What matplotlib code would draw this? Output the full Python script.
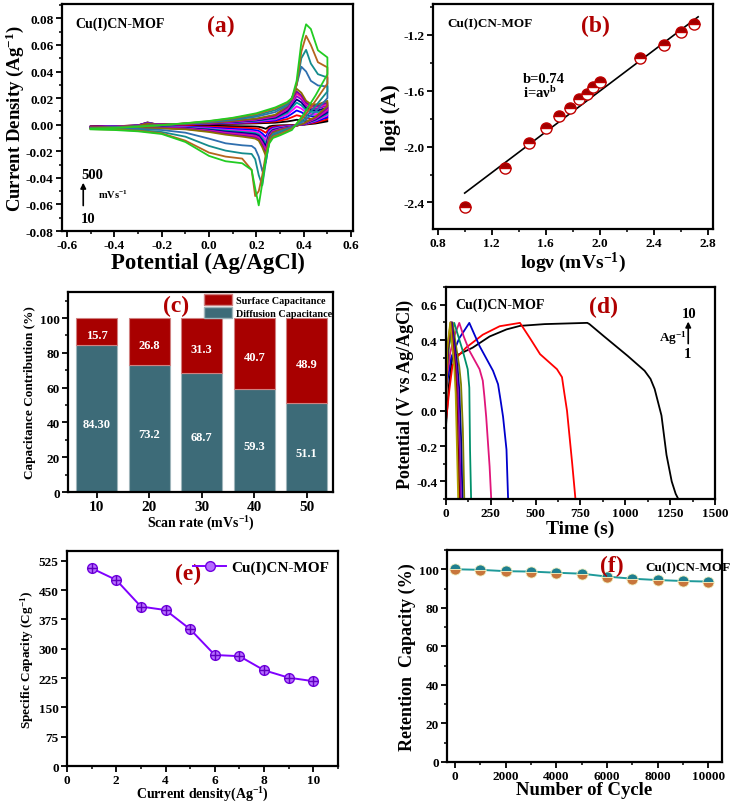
import matplotlib
matplotlib.use('Agg')
import matplotlib.pyplot as plt
from matplotlib.ticker import MultipleLocator, FormatStrFormatter
from matplotlib.patches import Patch
import numpy as np

#%% Estilo general
plt.rcParams['font.family'] = ['Liberation Serif', 'DejaVu Serif']
plt.rcParams['font.weight'] = 'bold'
plt.rcParams['axes.labelweight'] = 'bold'
plt.rcParams['axes.unicode_minus'] = False
plt.rcParams['mathtext.fontset'] = 'custom'
plt.rcParams['mathtext.rm'] = 'Liberation Serif:bold'
plt.rcParams['mathtext.it'] = 'Liberation Serif:italic:bold'
plt.rcParams['mathtext.bf'] = 'Liberation Serif:bold'
plt.rcParams['mathtext.default'] = 'regular'

DARKRED = '#b00000'

#%% Datos (a): voltametria ciclica, corriente en 10^-3 A/g
scan_rates = [10, 20, 30, 40, 50, 60, 70, 80, 90, 100, 200, 300, 400, 500]
cv_colors = ['black', '#ff0000', '#0000ff', '#ff00ff', '#00a0a0', '#000080',
             '#9400d3', '#ff1493', '#7b00b0', '#8b7000',
             '#2f6fae', '#148c8c', '#b5651d', '#22cc22']
E_fwd = [-0.5, -0.4, -0.3, -0.26, -0.22, -0.1, 0.0, 0.1, 0.2, 0.28, 0.33,
         0.35, 0.37, 0.39, 0.41, 0.43, 0.46, 0.5]
E_rev = [0.5, 0.45, 0.4, 0.35, 0.3, 0.27, 0.255, 0.24, 0.225, 0.21, 0.195,
         0.18, 0.14, 0.07, 0.0, -0.1, -0.2, -0.3, -0.4, -0.5]
i_fwd = [
    [-1.5, -1.2, -0.5, 1.7, 0.2, 0.2, 0.4, 0.6, 1.0, 1.5, 2.4, 3.0, 3.7, 3.2, 2.6, 2.3, 2.4, 3.0],
    [-1.6, -1.2, -0.5, 1.5, 0.1, 0.3, 0.6, 0.9, 1.5, 2.4, 4.2, 5.6, 7.1, 6.3, 4.9, 4.3, 4.4, 5.2],
    [-1.7, -1.3, -0.6, 1.4, 0.1, 0.4, 0.8, 1.2, 2.0, 3.2, 5.9, 8.2, 10.7, 9.4, 7.2, 6.3, 6.3, 7.4],
    [-1.8, -1.4, -0.6, 1.3, 0.1, 0.5, 1.0, 1.5, 2.5, 4.0, 7.5, 10.5, 13.8, 12.1, 9.2, 8.0, 8.0, 9.4],
    [-1.9, -1.4, -0.7, 1.2, 0.1, 0.5, 1.1, 1.8, 2.9, 4.7, 8.8, 12.6, 16.6, 14.6, 11.0, 9.6, 9.5, 11.2],
    [-2.0, -1.5, -0.7, 1.1, 0.0, 0.6, 1.2, 2.0, 3.3, 5.3, 10.0, 14.4, 19.0, 16.8, 12.6, 11.0, 10.8, 12.8],
    [-2.0, -1.5, -0.8, 1.0, 0.0, 0.6, 1.3, 2.3, 3.7, 6.0, 11.3, 16.2, 21.5, 19.0, 14.3, 12.4, 12.2, 14.4],
    [-2.1, -1.6, -0.8, 0.9, 0.0, 0.7, 1.4, 2.5, 4.0, 6.5, 12.3, 17.7, 23.5, 20.8, 15.6, 13.5, 13.3, 15.7],
    [-2.1, -1.6, -0.9, 0.8, 0.0, 0.7, 1.5, 2.7, 4.3, 7.0, 13.1, 18.8, 25.0, 22.1, 16.6, 14.4, 14.1, 16.7],
    [-2.2, -1.7, -0.9, 0.7, -0.1, 0.8, 1.6, 2.9, 4.6, 7.5, 14.0, 20.3, 27.0, 24.0, 18.0, 15.5, 15.2, 18.0],
    [-2.5, -2.0, -1.2, -0.8, -0.5, 0.8, 2.0, 3.6, 6.0, 9.5, 14.5, 19.5, 30.0, 43.6, 40.0, 33.0, 29.5, 28.7],
    [-2.7, -2.2, -1.3, -0.9, -0.6, 0.9, 2.3, 4.2, 7.0, 11.0, 15.5, 19.0, 30.0, 50.0, 56.3, 46.0, 38.0, 35.5],
    [-2.9, -2.4, -1.4, -1.0, -0.6, 1.0, 2.6, 4.8, 8.0, 12.2, 16.5, 19.5, 30.0, 55.0, 66.9, 60.0, 47.0, 43.1],
    [-3.0, -2.5, -1.5, -1.0, -0.6, 1.1, 2.8, 5.2, 8.6, 13.0, 17.0, 20.0, 33.0, 62.0, 75.5, 72.0, 56.0, 50.6],
]
i_rev = [
    [2.5, 0.9, 0.0, -0.3, -0.5, -0.8, -1.3, -3.1, -2.2, -1.6, -1.4, -1.3, -1.2, -1.0, -0.8, -0.6, -0.6, -0.9, -1.2, -1.3],
    [4.0, 1.6, 0.1, -0.5, -1.0, -1.6, -2.6, -6.1, -4.4, -3.1, -2.7, -2.6, -2.3, -2.0, -1.5, -1.1, -1.0, -1.1, -1.3, -1.4],
    [5.5, 2.4, 0.2, -0.8, -1.6, -2.3, -3.9, -9.2, -6.6, -4.7, -4.1, -3.9, -3.5, -2.9, -2.2, -1.5, -1.3, -1.3, -1.4, -1.5],
    [7.0, 3.0, 0.3, -1.0, -2.0, -3.0, -5.0, -11.8, -8.5, -6.0, -5.3, -5.0, -4.5, -3.8, -2.8, -1.9, -1.6, -1.5, -1.5, -1.6],
    [8.2, 3.5, 0.4, -1.2, -2.4, -3.6, -6.0, -14.1, -10.2, -7.2, -6.3, -6.0, -5.4, -4.5, -3.3, -2.2, -1.8, -1.7, -1.7, -1.7],
    [9.3, 4.0, 0.5, -1.4, -2.8, -4.1, -6.9, -16.2, -11.7, -8.3, -7.2, -6.9, -6.2, -5.2, -3.8, -2.5, -2.0, -1.8, -1.8, -1.8],
    [10.5, 4.5, 0.6, -1.5, -3.1, -4.7, -7.8, -18.3, -13.3, -9.4, -8.2, -7.8, -7.0, -5.9, -4.3, -2.8, -2.2, -2.0, -1.9, -1.9],
    [11.5, 5.0, 0.7, -1.7, -3.4, -5.1, -8.5, -20.0, -14.5, -10.2, -8.9, -8.5, -7.7, -6.4, -4.7, -3.0, -2.4, -2.2, -2.1, -2.0],
    [12.5, 5.5, 0.8, -1.8, -3.7, -5.5, -9.0, -21.5, -15.5, -11.0, -9.6, -9.2, -8.3, -6.9, -5.0, -3.2, -2.6, -2.3, -2.2, -2.1],
    [14.0, 6.0, 1.0, -2.0, -4.0, -6.0, -10.0, -23.5, -17.0, -12.0, -10.5, -10.0, -9.0, -7.5, -5.5, -3.5, -2.8, -2.5, -2.4, -2.3],
    [20.0, 10.0, 2.5, -2.0, -5.0, -7.0, -12.0, -28.0, -34.9, -24.0, -18.0, -16.0, -15.5, -14.0, -10.5, -6.0, -4.0, -3.2, -2.8, -2.6],
    [25.0, 14.0, 4.0, -2.5, -6.0, -8.0, -12.0, -28.0, -45.6, -38.0, -26.0, -22.0, -21.5, -19.5, -16.0, -9.0, -5.5, -4.0, -3.4, -3.0],
    [31.0, 18.0, 6.0, -3.0, -7.0, -9.0, -12.0, -22.0, -38.0, -50.0, -53.7, -34.0, -25.5, -24.0, -21.0, -12.0, -6.5, -4.5, -3.7, -3.3],
    [38.0, 22.0, 8.0, -4.0, -8.0, -10.0, -14.0, -25.0, -44.0, -60.7, -48.0, -34.0, -29.0, -27.5, -23.5, -13.0, -7.0, -5.0, -4.0, -3.5],
]

#%% Datos (b): log i vs log v
log_v = [1.0, 1.301, 1.477, 1.602, 1.699, 1.778, 1.845, 1.903, 1.954, 2.0,
         2.301, 2.477, 2.602, 2.699]
log_i = [-2.43, -2.15, -1.975, -1.87, -1.78, -1.72, -1.66, -1.62, -1.575,
         -1.54, -1.365, -1.27, -1.18, -1.125]
fit_slope = 0.73
fit_intercept = -3.063
fit_range = [1.0, 2.73]

#%% Datos (c): contribucion capacitiva
scan_c = ['10', '20', '30', '40', '50']
diffusion = [84.30, 73.2, 68.7, 59.3, 51.1]
surface = [15.7, 26.8, 31.3, 40.7, 48.9]
diffusion_lbl = ['84.30', '73.2', '68.7', '59.3', '51.1']
surface_lbl = ['15.7', '26.8', '31.3', '40.7', '48.9']

#%% Datos (d): carga-descarga galvanostatica
gcd_colors = ['black', '#ff0000', '#0000cc', '#e0157a', '#00906a', '#808000',
              '#000080', '#8000c0', '#800000', '#b0a000']
gcd_t = [
    [0, 18, 37, 75, 150, 244, 338, 413, 550, 788, 800, 882, 1013, 1107, 1140, 1163, 1201, 1229, 1258, 1280, 1295],
    [3, 20, 37, 60, 113, 206, 300, 413, 469, 525, 619, 647, 660, 675, 704, 722],
    [0, 30, 75, 131, 160, 188, 263, 291, 305, 319, 338, 347],
    [0, 25, 50, 75, 100, 131, 188, 206, 215, 225, 244, 253],
    [0, 20, 47, 70, 94, 122, 131, 135, 141],
    [0, 15, 38, 55, 75, 85, 95, 103],
    [0, 12, 33, 48, 65, 75, 85, 93],
    [0, 10, 30, 43, 58, 67, 76, 84],
    [0, 9, 27, 39, 52, 60, 68, 76],
    [0, 8, 25, 35, 47, 55, 62, 69],
]
gcd_v = [
    [-0.10, 0.15, 0.31, 0.32, 0.357, 0.42, 0.46, 0.48, 0.49, 0.497, 0.49, 0.42, 0.31, 0.226, 0.18, 0.123, -0.027, -0.25, -0.40, -0.47, -0.50],
    [-0.04, 0.12, 0.254, 0.30, 0.357, 0.43, 0.478, 0.497, 0.41, 0.32, 0.235, 0.19, 0.10, 0.0, -0.30, -0.50],
    [0.11, 0.30, 0.41, 0.497, 0.43, 0.366, 0.226, 0.15, 0.06, -0.035, -0.22, -0.50],
    [0.15, 0.33, 0.43, 0.497, 0.42, 0.34, 0.235, 0.17, 0.08, -0.035, -0.316, -0.50],
    [0.20, 0.38, 0.497, 0.42, 0.34, 0.235, 0.13, -0.22, -0.50],
    [0.15, 0.35, 0.50, 0.38, 0.25, 0.15, -0.10, -0.50],
    [0.10, 0.35, 0.50, 0.38, 0.25, 0.12, -0.15, -0.50],
    [0.05, 0.35, 0.50, 0.38, 0.25, 0.12, -0.15, -0.50],
    [0.0, 0.35, 0.50, 0.38, 0.25, 0.10, -0.20, -0.50],
    [-0.05, 0.35, 0.50, 0.38, 0.25, 0.10, -0.20, -0.50],
]

#%% Datos (e) y (f)
current_density = [1, 2, 3, 4, 5, 6, 7, 8, 9, 10]
specific_capacity = [506, 476, 408, 399, 350, 284, 281, 245, 226, 217]
cycles = [0, 1000, 2000, 3000, 4000, 5000, 6000, 7000, 8000, 9000, 10000]
retention = [100, 99.7, 99.0, 98.8, 98.2, 97.7, 96.2, 95.1, 94.4, 93.9, 93.6]

#%% Figura
fig = plt.figure(figsize=(7.32, 8.04), dpi=100)


def estilo(ax, xmaj, xmin, ymaj, ymin):
    for s in ax.spines.values():
        s.set_linewidth(1.6)
    ax.xaxis.set_major_locator(MultipleLocator(xmaj))
    ax.yaxis.set_major_locator(MultipleLocator(ymaj))
    if xmin:
        ax.xaxis.set_minor_locator(MultipleLocator(xmin))
    if ymin:
        ax.yaxis.set_minor_locator(MultipleLocator(ymin))
    ax.tick_params(which='major', direction='out', length=4, width=1.3,
                   labelsize=9.5, pad=2, top=False, right=False)
    ax.tick_params(which='minor', direction='out', length=2.5, width=1.1,
                   top=False, right=False)


#%% (a)
ax = fig.add_axes([0.0847, 0.7114, 0.3975, 0.2824])
for k in range(len(scan_rates)):
    E = E_fwd + E_rev
    I = np.array(i_fwd[k] + i_rev[k]) / 1000
    ax.plot(E, I, color=cv_colors[k], lw=1.3)
ax.set_xlim(-0.621, 0.608)
ax.set_ylim(-0.08, 0.0908)
estilo(ax, 0.2, 0.1, 0.02, 0.01)
ax.yaxis.set_major_formatter(FormatStrFormatter('%.2f'))
ax.xaxis.set_major_formatter(FormatStrFormatter('%.1f'))
ax.set_xlabel('Potential (Ag/AgCl)', fontsize=16.5, labelpad=0)
ax.set_ylabel('Current Density (Ag$^{-1}$)', fontsize=13.5, labelpad=0)
ax.text(0.045, 0.90, 'Cu(I)CN-MOF', transform=ax.transAxes, fontsize=10)
ax.text(0.50, 0.88, '(a)', transform=ax.transAxes, fontsize=17,
        color=DARKRED)
ax.text(0.065, 0.235, '500', transform=ax.transAxes, fontsize=10.5)
ax.text(0.065, 0.04, '10', transform=ax.transAxes, fontsize=10.5)
ax.text(0.125, 0.145, 'mVs$^{-1}$', transform=ax.transAxes, fontsize=7.5)
ax.annotate('', xy=(0.073, 0.225), xytext=(0.073, 0.1),
            xycoords='axes fraction',
            arrowprops=dict(arrowstyle='-|>', color='black', lw=1.2,
                            mutation_scale=8))

#%% (b)
ax = fig.add_axes([0.5915, 0.714, 0.3825, 0.2798])
ax.plot(fit_range, [fit_slope * x + fit_intercept for x in fit_range],
        color='black', lw=1.2)
ax.plot(log_v, log_i, ls='none', marker='o', markersize=8,
        markerfacecolor='#a00000', markerfacecoloralt='white',
        markeredgecolor='#c00000', markeredgewidth=1.0, fillstyle='top')
ax.set_xlim(0.765, 2.84)
ax.set_ylim(-2.59, -0.978)
estilo(ax, 0.4, 0.2, 0.4, 0.2)
ax.xaxis.set_major_formatter(FormatStrFormatter('%.1f'))
ax.yaxis.set_major_formatter(FormatStrFormatter('%.1f'))
ax.set_xlabel('log\u03bd (mVs$^{-1}$)', fontsize=14, labelpad=0)
ax.set_ylabel('logi (A)', fontsize=15, labelpad=2)
ax.text(0.05, 0.9, 'Cu(I)CN-MOF', transform=ax.transAxes, fontsize=9.5)
ax.text(0.53, 0.88, '(b)', transform=ax.transAxes, fontsize=17,
        color=DARKRED)
ax.text(0.32, 0.655, 'b=0.74', transform=ax.transAxes, fontsize=10.5)
ax.text(0.32, 0.585, 'i=a\u03bd$^{b}$', transform=ax.transAxes, fontsize=10.5)

#%% (c)
ax = fig.add_axes([0.0929, 0.3868, 0.362, 0.2488])
xc = np.arange(len(scan_c))
ax.bar(xc, diffusion, width=0.78, color='#3d6b78', edgecolor='#9fb5bb',
       linewidth=0.8, label='Diffusion Capacitance')
ax.bar(xc, surface, width=0.78, bottom=diffusion, color='#a80000',
       edgecolor='#d08080', linewidth=0.8, label='Surface Capacitance')
for k in range(len(scan_c)):
    ax.text(xc[k], diffusion[k] + surface[k] / 2 - 2, surface_lbl[k],
            ha='center', va='center', color='white', fontsize=9)
    ax.text(xc[k], diffusion[k] / 2 - 3, diffusion_lbl[k],
            ha='center', va='center', color='white', fontsize=9)
ax.set_xlim(-0.55, 4.5)
ax.set_ylim(0, 115)
estilo(ax, 1, None, 20, 10)
ax.set_xticks(xc)
ax.set_xticklabels(scan_c)
ax.tick_params(axis='x', labelsize=11)
ax.set_xlabel('Scan rate (mVs$^{-1}$)', fontsize=10, labelpad=0)
ax.set_ylabel('Capacitance Contribution (%)', fontsize=9.5, labelpad=3)
ax.text(0.36, 0.905, '(c)', transform=ax.transAxes, fontsize=17,
        color=DARKRED)
handles = [Patch(facecolor='#a80000', edgecolor='#d08080'),
           Patch(facecolor='#3d6b78', edgecolor='#9fb5bb')]
ax.legend(handles, ['Surface Capacitance', 'Diffusion Capacitance'],
          loc='upper right', bbox_to_anchor=(1.02, 1.02), frameon=False,
          fontsize=7.3, handlelength=2.8, handleheight=1.3,
          labelspacing=0.15, handletextpad=0.4, borderaxespad=0.2)

#%% (d)
ax = fig.add_axes([0.609, 0.378, 0.368, 0.2638])
for k in range(len(gcd_t)):
    ax.plot(gcd_t[k], gcd_v[k], color=gcd_colors[k], lw=1.3)
ax.set_xlim(0, 1500)
ax.set_ylim(-0.5, 0.7)
estilo(ax, 250, 125, 0.2, 0.1)
ax.yaxis.set_major_formatter(FormatStrFormatter('%.1f'))
ax.set_xlabel('Time (s)', fontsize=14, labelpad=0)
ax.set_ylabel('Potential (V vs Ag/AgCl)', fontsize=13, labelpad=2)
ax.text(0.035, 0.9, 'Cu(I)CN-MOF', transform=ax.transAxes, fontsize=10)
ax.text(0.53, 0.88, '(d)', transform=ax.transAxes, fontsize=17,
        color=DARKRED)
ax.text(0.875, 0.86, '10', transform=ax.transAxes, fontsize=10.5)
ax.text(0.79, 0.745, 'Ag$^{-1}$', transform=ax.transAxes, fontsize=9.5)
ax.text(0.885, 0.67, '1', transform=ax.transAxes, fontsize=10.5)
ax.annotate('', xy=(0.9, 0.85), xytext=(0.9, 0.72),
            xycoords='axes fraction',
            arrowprops=dict(arrowstyle='-|>', color='black', lw=1.2,
                            mutation_scale=8))

#%% (e)
ax = fig.add_axes([0.0915, 0.046, 0.3702, 0.2674])
ax.plot(current_density, specific_capacity, color='#8000ff', lw=1.4,
        marker='o', markersize=7, markerfacecolor='#b56cff',
        markeredgecolor='#7000e0', markeredgewidth=1.0, label='Cu(I)CN-MOF')
ax.plot(current_density, specific_capacity, ls='none', marker='+',
        markersize=7, markeredgecolor='#6000c0', markeredgewidth=1.0)
ax.set_xlim(0, 11)
ax.set_ylim(0, 550)
estilo(ax, 2, 1, 75, None)
ax.tick_params(axis='y', which='minor', left=False)
ax.set_xlabel('Current density(Ag$^{-1}$)', fontsize=10, labelpad=-1)
ax.set_ylabel('Specific Capacity (Cg$^{-1}$)', fontsize=9.5, labelpad=2)
ax.text(0.40, 0.87, '(e)', transform=ax.transAxes, fontsize=17,
        color=DARKRED)
ax.legend(loc='upper right', frameon=False, fontsize=11, handlelength=2.2,
          handletextpad=0.3, borderaxespad=0.2)

#%% (f)
ax = fig.add_axes([0.6107, 0.051, 0.3756, 0.2637])
ax.plot(cycles, retention, color='#1f9a9a', lw=1.4, marker='o', markersize=8,
        markerfacecolor='#1f7f8f', markerfacecoloralt='#c8763c',
        markeredgecolor='#f0f0c0', markeredgewidth=0.6, fillstyle='top')
ax.set_xlim(-316, 10540)
ax.set_ylim(0, 110)
estilo(ax, 2000, 1000, 20, 10)
ax.set_xlabel('Number of Cycle', fontsize=13.5, labelpad=-1)
ax.set_ylabel('Retention  Capacity (%)', fontsize=13, labelpad=2)
ax.text(0.555, 0.9, '(f)', transform=ax.transAxes, fontsize=17,
        color=DARKRED)
ax.text(0.72, 0.905, 'Cu(I)CN-MOF', transform=ax.transAxes, fontsize=9.5)

fig.savefig('out.png', dpi=100)
